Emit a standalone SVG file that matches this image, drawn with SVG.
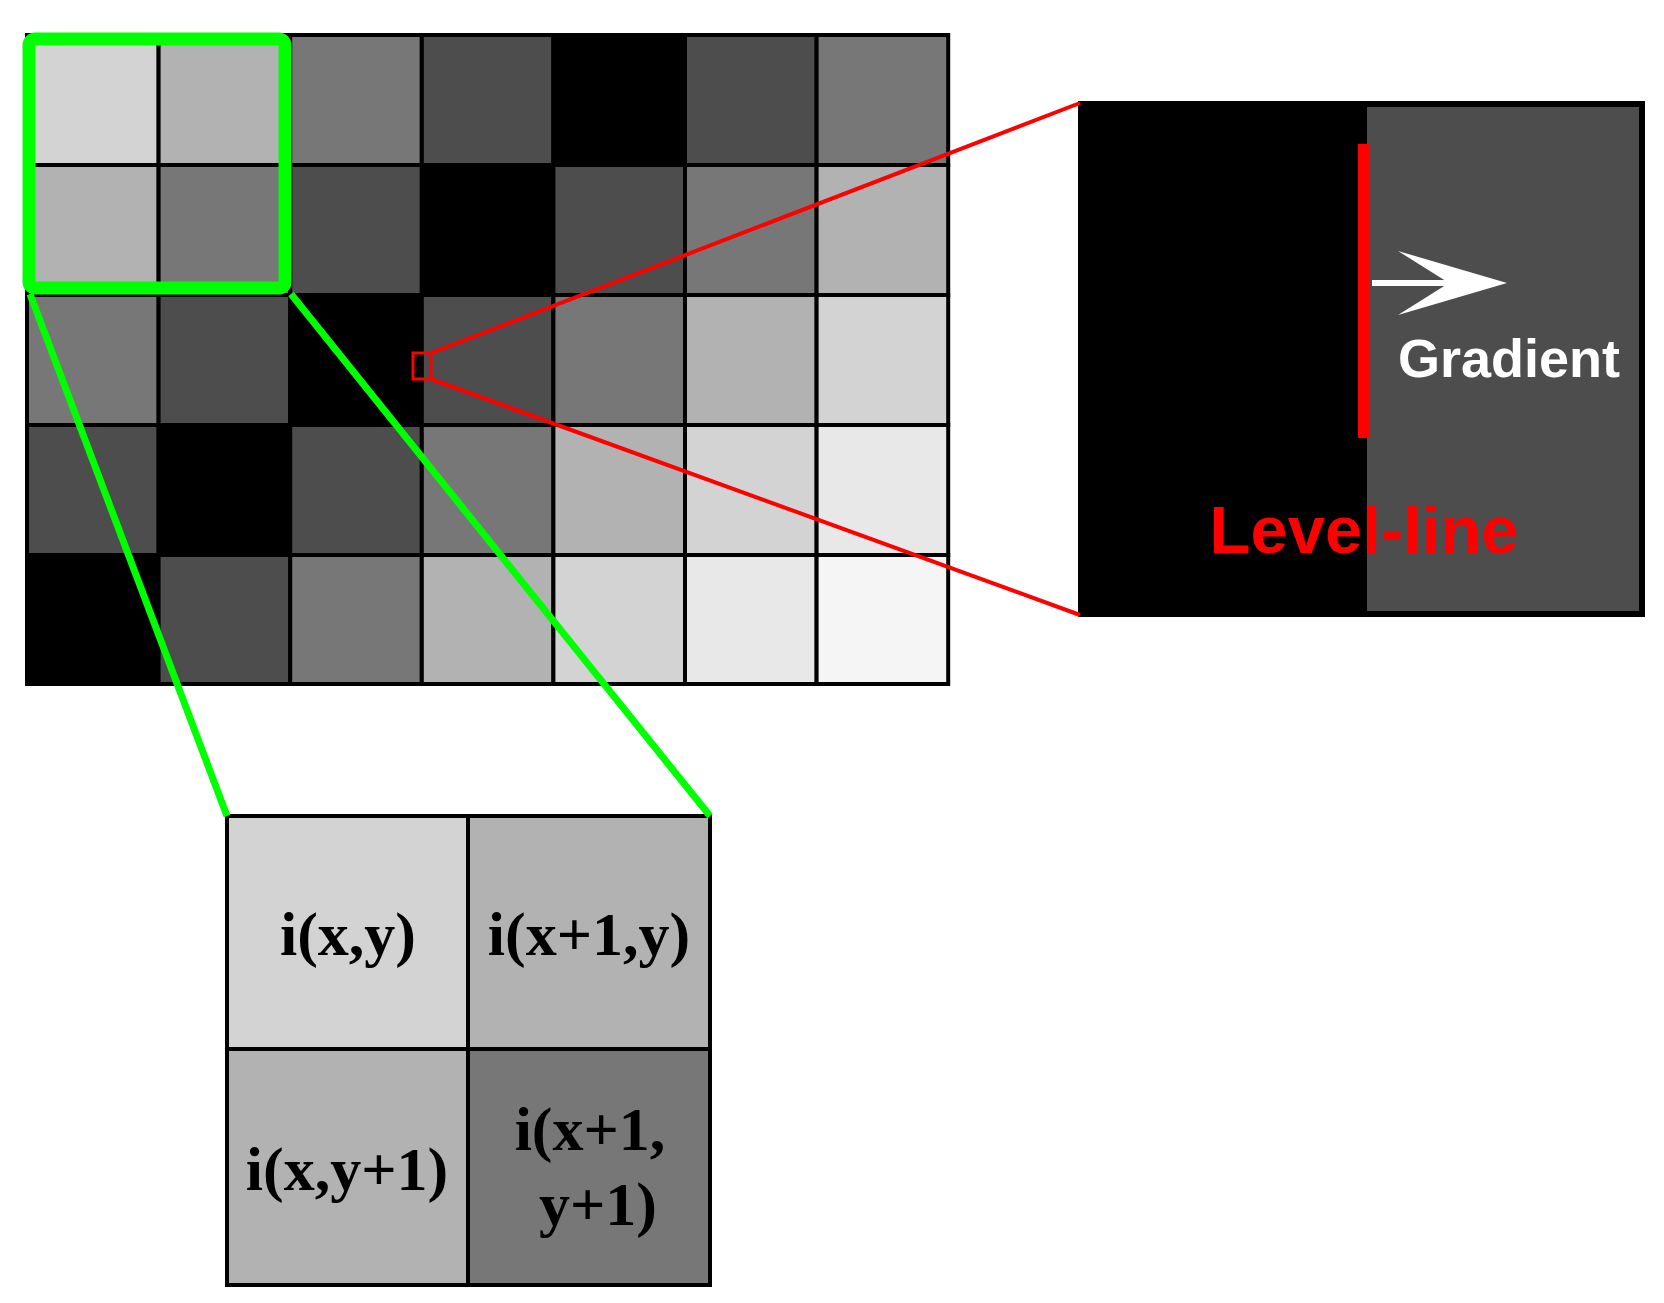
<svg xmlns="http://www.w3.org/2000/svg" width="1664" height="1303" viewBox="0 0 1664 1303">
<style>
.c{stroke:#000;stroke-width:4}
.t{font-family:"Liberation Serif",serif;font-weight:bold;font-size:62px;fill:#000;text-anchor:middle}
</style>
<rect width="1664" height="1303" fill="#fff"/>
<g id="grid">
<g class="c">
<rect x="27" y="35" width="131.6" height="130" fill="#d3d3d3"/><rect x="158.6" y="35" width="131.6" height="130" fill="#b2b2b2"/><rect x="290.2" y="35" width="131.6" height="130" fill="#777"/><rect x="421.8" y="35" width="131.6" height="130" fill="#4d4d4d"/><rect x="553.4" y="35" width="131.6" height="130" fill="#000"/><rect x="685" y="35" width="131.6" height="130" fill="#4d4d4d"/><rect x="816.6" y="35" width="131.6" height="130" fill="#777"/>
<rect x="27" y="165" width="131.6" height="130" fill="#b2b2b2"/><rect x="158.6" y="165" width="131.6" height="130" fill="#777"/><rect x="290.2" y="165" width="131.6" height="130" fill="#4d4d4d"/><rect x="421.8" y="165" width="131.6" height="130" fill="#000"/><rect x="553.4" y="165" width="131.6" height="130" fill="#4d4d4d"/><rect x="685" y="165" width="131.6" height="130" fill="#777"/><rect x="816.6" y="165" width="131.6" height="130" fill="#b2b2b2"/>
<rect x="27" y="295" width="131.6" height="130" fill="#777"/><rect x="158.6" y="295" width="131.6" height="130" fill="#4d4d4d"/><rect x="290.2" y="295" width="131.6" height="130" fill="#000"/><rect x="421.8" y="295" width="131.6" height="130" fill="#4d4d4d"/><rect x="553.4" y="295" width="131.6" height="130" fill="#777"/><rect x="685" y="295" width="131.6" height="130" fill="#b2b2b2"/><rect x="816.6" y="295" width="131.6" height="130" fill="#d3d3d3"/>
<rect x="27" y="425" width="131.6" height="130" fill="#4d4d4d"/><rect x="158.6" y="425" width="131.6" height="130" fill="#000"/><rect x="290.2" y="425" width="131.6" height="130" fill="#4d4d4d"/><rect x="421.8" y="425" width="131.6" height="130" fill="#777"/><rect x="553.4" y="425" width="131.6" height="130" fill="#b2b2b2"/><rect x="685" y="425" width="131.6" height="130" fill="#d3d3d3"/><rect x="816.6" y="425" width="131.6" height="130" fill="#e8e8e8"/>
<rect x="27" y="555" width="131.6" height="129" fill="#000"/><rect x="158.6" y="555" width="131.6" height="129" fill="#4d4d4d"/><rect x="290.2" y="555" width="131.6" height="129" fill="#777"/><rect x="421.8" y="555" width="131.6" height="129" fill="#b2b2b2"/><rect x="553.4" y="555" width="131.6" height="129" fill="#d3d3d3"/><rect x="685" y="555" width="131.6" height="129" fill="#e8e8e8"/><rect x="816.6" y="555" width="131.6" height="129" fill="#f5f5f5"/>
</g>
</g>
<g id="zoom-detail">
<rect x="1080" y="103" width="563" height="512" fill="#000" stroke="#000" stroke-width="4"/>
<rect x="1367" y="107" width="272" height="504" fill="#4d4d4d"/>
<rect x="1358" y="144" width="11" height="294" fill="#f00"/>
<line x1="1372" y1="283" x2="1455" y2="283" stroke="#fff" stroke-width="6"/>
<polygon points="1507,283 1398,251 1449,283 1398,315" fill="#fff"/>
<text x="1509" y="377" font-family="'Liberation Sans',Arial,sans-serif" font-weight="bold" font-size="54" fill="#fff" text-anchor="middle">Gradient</text>
<text x="1364" y="553" font-family="'Liberation Sans',Arial,sans-serif" font-weight="bold" font-size="67" fill="#f00" text-anchor="middle">Level-line</text>
</g>
<g id="zoom-pixels">
<g class="c">
<rect x="227" y="816" width="241" height="233" fill="#d3d3d3"/>
<rect x="468" y="816" width="242" height="233" fill="#b2b2b2"/>
<rect x="227" y="1049" width="241" height="236" fill="#b2b2b2"/>
<rect x="468" y="1049" width="242" height="236" fill="#777"/>
</g>
<text class="t" x="348" y="955">i(x,y)</text>
<text class="t" x="589" y="955">i(x+1,y)</text>
<text class="t" x="347" y="1190">i(x,y+1)</text>
<text class="t" x="590" y="1150">i(x+1,</text>
<text class="t" x="598" y="1225">y+1)</text>
</g>
<g id="connectors" fill="none">
<rect x="29" y="39" width="256" height="249" rx="6" stroke="#0f0" stroke-width="13"/>
<line x1="30" y1="294" x2="227" y2="816" stroke="#0f0" stroke-width="7"/>
<line x1="291" y1="294" x2="710" y2="816" stroke="#0f0" stroke-width="7"/>
<rect x="413" y="353" width="18" height="26" stroke="#f00" stroke-width="3"/>
<line x1="431" y1="353" x2="1080" y2="103" stroke="#f00" stroke-width="4"/>
<line x1="431" y1="379" x2="1080" y2="615" stroke="#f00" stroke-width="4"/>
</g>
</svg>
